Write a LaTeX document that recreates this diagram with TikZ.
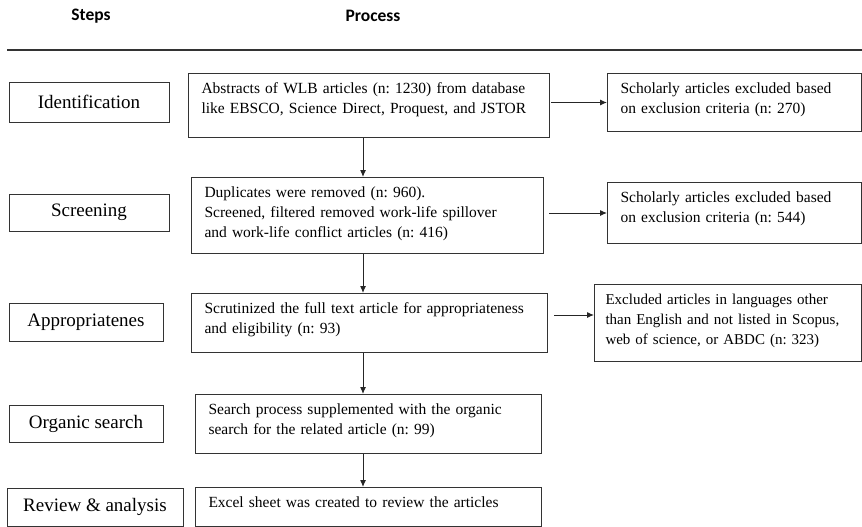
\documentclass[tikz,border=0pt]{standalone}
\usepackage{fontspec}
\setmainfont{Liberation Serif}
\newfontfamily\headfont{Carlito}
\usetikzlibrary{arrows.meta}
\frenchspacing

\begin{document}
\begin{tikzpicture}[x=1pt, y=-1pt, line width=1pt,
    stepbox/.style={draw=black!80, font=\fontsize{19}{22}\selectfont, inner sep=0pt},
    procbox/.style={draw=black!80, anchor=north west, align=left, inner xsep=13pt, inner ysep=0pt,
      text height=20pt, font=\fontsize{15.5}{20}\selectfont},
    head/.style={font=\headfont\bfseries\fontsize{17.5}{19}\selectfont},
    arr/.style={-{Latex[length=7pt, width=6pt]}, black!85}]
    \useasboundingbox (0, 0) rectangle (862, 527);

    \node [head] (steps) at (91, 16) {Steps};
    \node [head] (process) at (373, 16) {Process};
    \coordinate (rulel) at (7, 50);
    \coordinate (ruler) at (862, 50);
    \draw [line width=1.6pt, black!80] (rulel) -- (ruler);

    % steps
    \node [stepbox, minimum width=160, minimum height=40] (ident) at (89, 102) {Identification};
    \node [stepbox, minimum width=160, minimum height=37] (screen) at (89, 212.5) {Screening};
    \node [stepbox, minimum width=154, minimum height=38] (approp) at (86, 322) {Appropriatenes};
    \node [stepbox, minimum width=154, minimum height=37] (organic) at (86, 423.5) {Organic search};
    \node [stepbox, minimum width=176, minimum height=38] (review) at (95, 507) {Review \& analysis};

    % process
    \node [procbox, text width=335, text depth=44] (abstr) at (188, 73)
      {Abstracts of WLB articles (n: 1230) from database\\like EBSCO, Science Direct, Proquest, and JSTOR};
    \node [procbox, text width=326, text depth=56] (dupl) at (191, 177)
      {Duplicates were removed (n: 960).\\Screened, filtered removed work-life spillover\\and work-life conflict articles (n: 416)};
    \node [procbox, text width=330, text depth=39] (scrut) at (191, 293)
      {Scrutinized the full text article for appropriateness\\and eligibility (n: 93)};
    \node [procbox, text width=320, text depth=39] (search) at (195, 394)
      {Search process supplemented with the organic\\search for the related article (n: 99)};
    \node [procbox, text width=320, text depth=19] (excel) at (195, 487)
      {Excel sheet was created to review the articles};

    % excluded
    \node [procbox, text width=228, text depth=38] (excl1) at (607, 73)
      {Scholarly articles excluded based\\on exclusion criteria (n: 270)};
    \node [procbox, text width=228, text depth=41] (excl2) at (607, 182)
      {Scholarly articles excluded based\\on exclusion criteria (n: 544)};
    \node [procbox, inner xsep=11pt, text width=245, text depth=57, font=\fontsize{15}{20}\selectfont] (excl3) at (594, 284)
      {Excluded articles in languages other\\\mbox{than English and not listed in Scopus,}\\web of science, or ABDC (n: 323)};

    \coordinate (col) at (363, 0);
    \draw [arr] (abstr.south -| col) -- (dupl.north -| col);
    \draw [arr] (dupl.south -| col) -- (scrut.north -| col);
    \draw [arr] (scrut.south -| col) -- (search.north -| col);
    \draw [arr] (search.south -| col) -- (excel.north -| col);

    \draw [arr] ([xshift=1pt]abstr.east |- excl1) -- (excl1.west);
    \draw [arr] ([xshift=5pt]dupl.east |- excl2) -- (excl2.west);
    \draw [arr] ([xshift=6pt, yshift=8pt]scrut.east) -- ([yshift=8pt]scrut.east -| excl3.west);
  \end{tikzpicture}
\end{document}
